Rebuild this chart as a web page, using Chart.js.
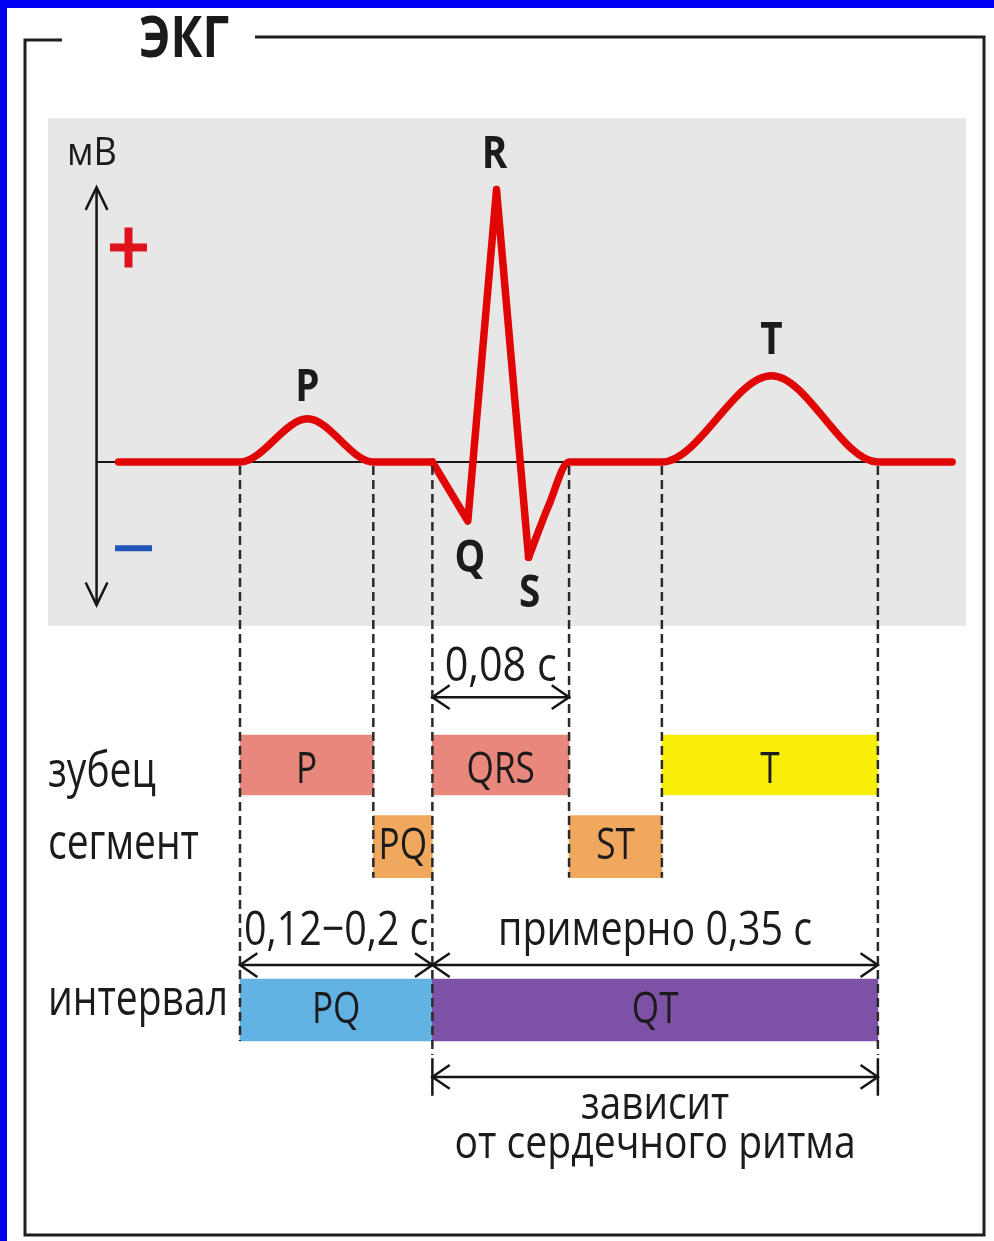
<!DOCTYPE html>
<html>
<head>
<meta charset="utf-8">
<script src="https://cdn.jsdelivr.net/npm/chart.js@4.4.1/dist/chart.umd.min.js"></script>
<style>
  html, body { margin: 0; padding: 0; background: #fff; }
  canvas { display: block; }
</style>
</head>
<body>
<canvas id="ecg" width="994" height="1241"></canvas>
<script>
// time in ms from the start of the P wave, amplitude in mV
const pPartT = [-72, 0, 40, 79, 114];
const pPartMv = [0, 0, 0.19, 0, 0];
const qrsT = [114, 135, 152, 171];
const qrsMv = [0, -0.26, 1.2, -0.42];
const stPartT = [171, 183, 195, 250, 315, 378, 422];
const stPartMv = [-0.42, -0.19, 0, 0, 0.38, 0, 0];

const peakNames = ['P', 'Q', 'R', 'S', 'T'];
const peakT = [40, 135, 152, 171, 315];
const peakMv = [0.19, -0.26, 1.2, -0.42, 0.38];

const rowLabels = ['зубец', 'сегмент', 'интервал'];
const rowPos = [1, 2, 4];

const waveNames = ['P', 'QRS', 'T'];
const waveFrom = [0, 114, 250];
const waveTo = [79, 195, 378];
const segNames = ['PQ', 'ST'];
const segFrom = [79, 195];
const segTo = [114, 250];
const intNames = ['PQ', 'QT'];
const intFrom = [0, 114];
const intTo = [114, 378];

const qrsSpanText = '0,08 с';
const pqSpanText = '0,12−0,2 с';
const qtSpanText = 'примерно 0,35 с';
const noteLines = ['зависит', 'от сердечного ритма'];

const FONT = '"Open Sans", "Noto Sans", sans-serif';
const INK = '#1b1b1b';

function pts(ts, vs) {
  return ts.map((t, i) => ({ x: t, y: vs[i] }));
}

function txt(ctx, s, x, y, size, opt = {}) {
  ctx.save();
  ctx.font = (opt.bold ? 'bold ' : '') + size + 'px ' + FONT;
  ctx.fillStyle = opt.color || INK;
  ctx.textAlign = opt.align || 'center';
  ctx.textBaseline = 'alphabetic';
  ctx.translate(x, y);
  ctx.scale(opt.sx || 0.8, 1);
  ctx.fillText(s, 0, 0);
  ctx.restore();
}

// open "V" arrow head, (dx, dy) points towards the tip
function head(ctx, x, y, dx, dy, len, spread) {
  const a = Math.atan2(dy, dx);
  ctx.beginPath();
  ctx.moveTo(x - len * Math.cos(a - spread), y - len * Math.sin(a - spread));
  ctx.lineTo(x, y);
  ctx.lineTo(x - len * Math.cos(a + spread), y - len * Math.sin(a + spread));
  ctx.stroke();
}

function span(ctx, x1, x2, y) {
  ctx.beginPath();
  ctx.moveTo(x1, y);
  ctx.lineTo(x2, y);
  ctx.stroke();
  head(ctx, x1, y, -1, 0, 21, 0.6);
  head(ctx, x2, y, 1, 0, 21, 0.6);
}

const ecgDecor = {
  id: 'ecgDecor',
  beforeDatasetsDraw(chart) {
    const { ctx } = chart;
    const sx = chart.scales.x, sy = chart.scales.y;
    ctx.save();
    // page + blue border
    ctx.fillStyle = '#0000f2';
    ctx.fillRect(0, 0, 994, 1241);
    ctx.fillStyle = '#ffffff';
    ctx.fillRect(7, 8, 987, 1233);

    // gray panel behind the trace
    ctx.fillStyle = '#e7e7e7';
    ctx.fillRect(48, 118, 918, 508);

    // frame with gap for the title
    ctx.strokeStyle = '#1e1e1e';
    ctx.lineWidth = 3;
    ctx.beginPath();
    ctx.moveTo(62, 40);
    ctx.lineTo(25, 40);
    ctx.lineTo(25, 1235);
    ctx.lineTo(984, 1235);
    ctx.lineTo(984, 37);
    ctx.lineTo(255, 37);
    ctx.stroke();
    txt(ctx, 'ЭКГ', 184, 57, 58, { bold: true, sx: 0.82 });

    // mV axis
    const ax = sx.getPixelForValue(-85);
    const top = sy.getPixelForValue(1.21), bot = sy.getPixelForValue(-0.63);
    ctx.lineWidth = 2.5;
    ctx.strokeStyle = '#151515';
    ctx.beginPath();
    ctx.moveTo(ax, top);
    ctx.lineTo(ax, bot);
    ctx.stroke();
    head(ctx, ax, top, 0, -1, 25, 0.45);
    head(ctx, ax, bot, 0, 1, 25, 0.45);
    txt(ctx, 'мВ', 67, 165, 38, { align: 'left', sx: 0.95 });

    // zero line
    const y0 = sy.getPixelForValue(0);
    ctx.lineWidth = 2;
    ctx.beginPath();
    ctx.moveTo(ax, y0);
    ctx.lineTo(sx.getPixelForValue(420), y0);
    ctx.stroke();

    // + and - signs
    const py = sy.getPixelForValue(0.945), my = sy.getPixelForValue(-0.38);
    ctx.fillStyle = '#e0141e';
    ctx.fillRect(110, py - 4, 37, 8);
    ctx.fillRect(124.5, py - 20, 8, 40);
    ctx.fillStyle = '#1f56b8';
    ctx.fillRect(115, my - 3, 37, 6);
    ctx.restore();
  },
  afterDatasetsDraw(chart) {
    const { ctx } = chart;
    const sx = chart.scales.x, sy = chart.scales.y, sr = chart.scales.rows;
    const X = t => sx.getPixelForValue(t);
    const R = r => sr.getPixelForValue(r);
    const y0 = sy.getPixelForValue(0);
    ctx.save();

    // dashed guides from the zero line down to the bars
    const guides = [
      [waveFrom[0], 4.38], [waveTo[0], 2.38], [waveFrom[1], 4.55],
      [waveTo[1], 2.38], [waveFrom[2], 2.38], [waveTo[2], 4.55]
    ];
    ctx.strokeStyle = '#2a2a2a';
    ctx.lineWidth = 2.5;
    ctx.setLineDash([9, 5]);
    guides.forEach(([t, r]) => {
      ctx.beginPath();
      ctx.moveTo(X(t), y0 + 4);
      ctx.lineTo(X(t), R(r));
      ctx.stroke();
    });
    ctx.setLineDash([]);

    // wave letters
    const offs = [-18, 51, -22, 50, -22];
    const dxs = [0, 2, -2, 1, 0];
    peakNames.forEach((n, i) => {
      txt(ctx, n, X(peakT[i]) + dxs[i], sy.getPixelForValue(peakMv[i]) + offs[i], 44, { bold: true, sx: 0.88 });
    });

    // text inside bars
    const barText = (names, from, to, row, dy) => names.forEach((n, i) => {
      txt(ctx, n, (X(from[i]) + X(to[i])) / 2, R(row) + dy, 44, { sx: 0.8 });
    });
    barText(waveNames, waveFrom, waveTo, rowPos[0], 18);
    barText(segNames, segFrom, segTo, rowPos[1], 12);
    barText(intNames, intFrom, intTo, rowPos[2], 13);

    // row labels
    const rowDy = [22, 12, 5];
    rowLabels.forEach((l, i) => {
      txt(ctx, l, 48, R(rowPos[i]) + rowDy[i], 50, { align: 'left', sx: 0.78 });
    });

    // span arrows
    ctx.strokeStyle = '#151515';
    ctx.lineWidth = 2.5;
    span(ctx, X(waveFrom[1]), X(waveTo[1]), R(0.17));
    txt(ctx, qrsSpanText, (X(waveFrom[1]) + X(waveTo[1])) / 2, R(-0.03), 48, { sx: 0.86 });

    span(ctx, X(intFrom[0]), X(intTo[0]), R(3.45));
    span(ctx, X(intFrom[1]), X(intTo[1]), R(3.45));
    txt(ctx, pqSpanText, (X(intFrom[0]) + X(intTo[0])) / 2, R(3.2), 48, { sx: 0.82 });
    txt(ctx, qtSpanText, (X(intFrom[1]) + X(intTo[1])) / 2, R(3.2), 48, { sx: 0.82 });

    // heart-rate note
    const nx1 = X(intFrom[1]), nx2 = X(intTo[1]);
    span(ctx, nx1, nx2, R(4.82));
    ctx.beginPath();
    ctx.moveTo(nx1, R(4.59)); ctx.lineTo(nx1, R(5.05));
    ctx.moveTo(nx2, R(4.59)); ctx.lineTo(nx2, R(5.05));
    ctx.stroke();
    txt(ctx, noteLines[0], (nx1 + nx2) / 2, R(5.33), 46, { sx: 0.84 });
    txt(ctx, noteLines[1], (nx1 + nx2) / 2, R(5.81), 46, { sx: 0.85 });

    ctx.restore();
  }
};

const trace = (ts, vs, smooth) => ({
  type: 'line',
  data: pts(ts, vs),
  xAxisID: 'x',
  yAxisID: 'y',
  borderColor: '#e00606',
  borderWidth: 7.5,
  borderJoinStyle: 'round',
  borderCapStyle: 'round',
  pointRadius: 0,
  tension: smooth ? 0.4 : 0,
  cubicInterpolationMode: smooth ? 'monotone' : 'default',
  order: 0
});

const bars = (from, to, row, colors, thick) => ({
  type: 'bar',
  indexAxis: 'y',
  xAxisID: 'x',
  yAxisID: 'rows',
  grouped: false,
  barThickness: thick,
  borderWidth: 0,
  backgroundColor: colors,
  data: from.map((f, i) => ({ x: [f, to[i]], y: row })),
  order: 1
});

new Chart(document.getElementById('ecg'), {
  type: 'line',
  data: {
    datasets: [
      bars(waveFrom, waveTo, rowPos[0], ['#e8877c', '#e8877c', '#f8ee08'], 60),
      bars(segFrom, segTo, rowPos[1], ['#efa85e', '#efa85e'], 62),
      bars(intFrom, intTo, rowPos[2], ['#62b3e4', '#7d52a6'], 62),
      trace(pPartT, pPartMv, true),
      trace(qrsT, qrsMv, false),
      trace(stPartT, stPartMv, true)
    ]
  },
  options: {
    responsive: false,
    animation: false,
    events: [],
    layout: { padding: 0 },
    plugins: { legend: { display: false }, tooltip: { enabled: false } },
    scales: {
      x: { type: 'linear', min: -142.22, max: 446.81, offset: false, display: false },
      y: { type: 'linear', min: -3.4317, max: 2.0352, offset: false, display: false },
      rows: { type: 'linear', axis: 'y', min: -8.367, max: 6.829, reverse: true, offset: false, display: false }
    }
  },
  plugins: [ecgDecor]
});
</script>
</body>
</html>
